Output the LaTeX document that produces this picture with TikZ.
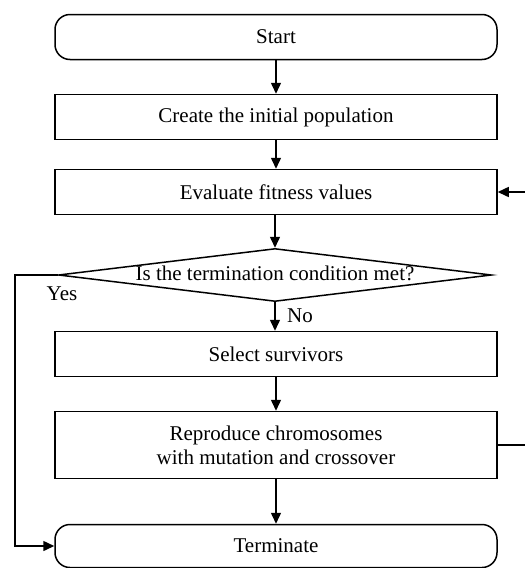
\documentclass[tikz,border=0pt]{standalone}
\usepackage{fontspec}
\setmainfont{Liberation Serif}
\usetikzlibrary{arrows.meta,shapes.geometric}
\begin{document}
\begin{tikzpicture}[x=1pt,y=1pt,
  font=\fontsize{21}{24}\selectfont,
  line width=1.5pt,
  box/.style={draw,minimum width=442pt,minimum height=45pt,inner sep=2pt,align=center},
  term/.style={box,rounded corners=15pt},
  arr/.style={-{Triangle[length=11pt,width=10pt]}}]
\useasboundingbox (0,0) rectangle (525,-568);
\node[term] (start) at (276,-37) {Start};
\node[box] (create) at (276,-117) {Create the initial population};
\node[box] (eval) at (276,-192) {Evaluate fitness values};
\node[draw,diamond,inner sep=0pt,minimum width=433pt,minimum height=53pt] (dec) at (275,-275) {};
\node[inner sep=0pt] (dectext) at (275,-273) {Is the termination condition met?};
\node[box] (select) at (276,-354) {Select survivors};
\node[box,minimum height=67pt] (repro) at (276,-445) {Reproduce chromosomes\\with mutation and crossover};
\node[term,minimum height=43pt] (termn) at (276,-546) {Terminate};
\node (yes) at (62,-294) {Yes};
\node (no) at (300,-316) {No};
\coordinate (yl) at (15,-275);
\coordinate (rA) at (525,-445);
\coordinate (rB) at (525,-192);
\draw[arr] (start) -- (create);
\draw[arr] (create) -- (eval);
\draw[arr] (eval.south -| dec.north) -- (dec.north);
\draw[arr] (dec.south) -- (select.north -| dec.south);
\draw[arr] (select) -- (repro);
\draw[arr] (repro) -- (termn);
\draw[arr] (dec.west) -- (yl) |- (termn.west);
\draw (repro.east) -- (rA);
\draw[arr] (rB) -- (eval.east);
\end{tikzpicture}
\end{document}
